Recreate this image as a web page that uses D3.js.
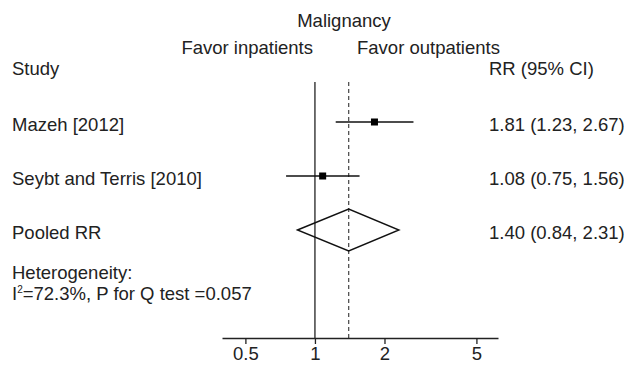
<!DOCTYPE html>
<html>
<head>
<meta charset="utf-8">
<script src="https://cdn.jsdelivr.net/npm/d3@7"></script>
<style>
  body { margin: 0; background: #fff; }
  text { font-family: "Liberation Sans", Arial, sans-serif; font-size: 18.5px; fill: #222; }
</style>
</head>
<body>
<script>
// study rows
const studies = ["Mazeh [2012]", "Seybt and Terris [2010]"];
const rr = [1.81, 1.08];
const lower = [1.23, 0.75];
const upper = [2.67, 1.56];
const rrLabels = ["1.81 (1.23, 2.67)", "1.08 (0.75, 1.56)"];

// pooled estimate
const pooled = { label: "Pooled RR", rr: 1.40, lo: 0.84, hi: 2.31, text: "1.40 (0.84, 2.31)" };

const ticks = [0.5, 1, 2, 5];
const rows = ["Study", ...studies, pooled.label];

const width = 624, height = 365;

const svg = d3.select("body").append("svg")
    .attr("width", width)
    .attr("height", height);

const x = d3.scaleLog().domain([0.396, 6.2]).range([222, 498]);
const y = d3.scalePoint().domain(rows).range([68, 230]);

const lineTop = 82, axisY = 338;

// titles
svg.append("text").attr("x", 344).attr("y", 27).attr("text-anchor", "middle").text("Malignancy");
svg.append("text").attr("x", 313).attr("y", 54).attr("text-anchor", "end").text("Favor inpatients");
svg.append("text").attr("x", 357).attr("y", 54).text("Favor outpatients");

// headers
svg.append("text").attr("x", 12).attr("y", y("Study") + 7).text("Study");
svg.append("text").attr("x", 489).attr("y", y("Study") + 7).text("RR (95% CI)");

// null line and pooled line
svg.append("line")
    .attr("x1", x(1)).attr("x2", x(1))
    .attr("y1", lineTop).attr("y2", axisY)
    .attr("stroke", "#222").attr("stroke-width", 1.3);

svg.append("line")
    .attr("x1", x(pooled.rr)).attr("x2", x(pooled.rr))
    .attr("y1", lineTop).attr("y2", axisY)
    .attr("stroke", "#444").attr("stroke-width", 1.2)
    .attr("stroke-dasharray", "4,3");

// studies
studies.forEach((s, i) => {
    const cy = y(s);
    svg.append("text").attr("x", 12).attr("y", cy + 9).text(s);
    svg.append("text").attr("x", 489).attr("y", cy + 9).text(rrLabels[i]);
    svg.append("line")
        .attr("x1", x(lower[i])).attr("x2", x(upper[i]))
        .attr("y1", cy).attr("y2", cy)
        .attr("stroke", "#111").attr("stroke-width", 1.4);
    svg.append("rect")
        .attr("x", x(rr[i]) - 3.5).attr("y", cy - 3.5)
        .attr("width", 7).attr("height", 7)
        .attr("fill", "#000");
});

// pooled diamond
const py = y(pooled.label);
svg.append("text").attr("x", 12).attr("y", py + 9).text(pooled.label);
svg.append("text").attr("x", 489).attr("y", py + 9).text(pooled.text);
svg.append("path")
    .attr("d", d3.line()([
        [x(pooled.lo), py], [x(pooled.rr), py - 21],
        [x(pooled.hi), py], [x(pooled.rr), py + 21]
    ]) + "Z")
    .attr("fill", "none").attr("stroke", "#111").attr("stroke-width", 1.4);

// heterogeneity
svg.append("text").attr("x", 12).attr("y", 279).text("Heterogeneity:");
const het = svg.append("text").attr("x", 12).attr("y", 300);
het.append("tspan").text("I");
het.append("tspan").attr("dy", -7).style("font-size", "10px").text("2");
het.append("tspan").attr("dy", 7).text("=72.3%, P for Q test =0.057");

// axis
const axis = svg.append("g")
    .attr("transform", `translate(0,${axisY})`)
    .call(d3.axisBottom(x).tickValues(ticks).tickFormat(d => d).tickSize(6).tickSizeOuter(0).tickPadding(3));
axis.select(".domain").attr("stroke", "#222").attr("stroke-width", 1.3);
axis.selectAll(".tick line").attr("stroke", "#222").attr("stroke-width", 1.3);
axis.selectAll(".tick text")
    .attr("font-family", null).attr("font-size", null)
    .style("font-size", "18.5px").attr("fill", "#222");
</script>
</body>
</html>
